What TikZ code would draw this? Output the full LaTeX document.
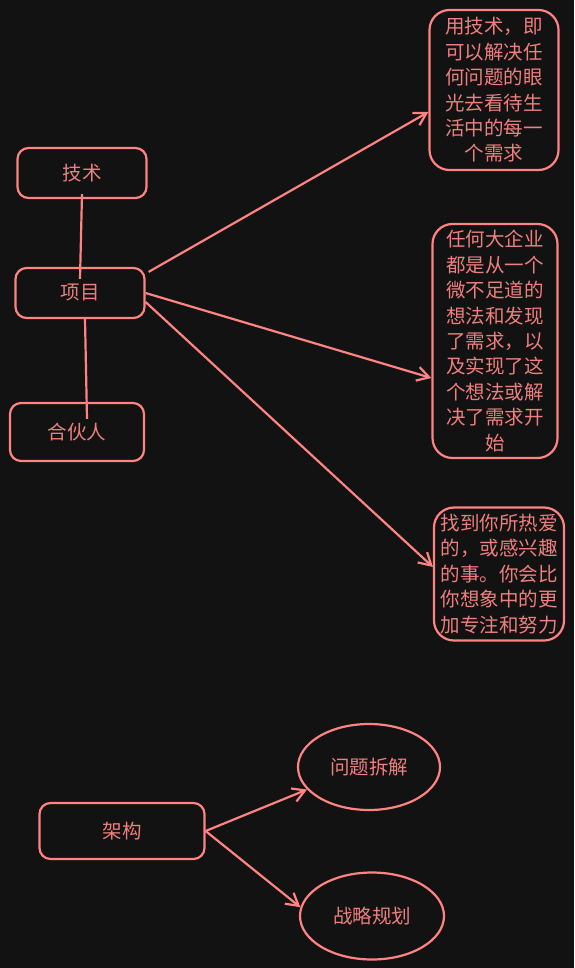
\documentclass[tikz,border=0pt]{standalone}
\usepackage{fontspec}
\setmainfont{Noto Sans CJK SC}
\usetikzlibrary{shapes.geometric,arrows.meta}
\definecolor{bgdark}{HTML}{121212}
\definecolor{pen}{HTML}{FF8383}
\definecolor{ink}{HTML}{EE7F7F}
\tikzset{
  box/.style={draw=pen,line width=2.2pt,rounded corners=11pt,text=ink,align=center,inner sep=0pt},
  bigbox/.style={box,rounded corners=20pt},
  oval/.style={draw=pen,line width=2.2pt,ellipse,text=ink,inner sep=0pt},
  link/.style={draw=pen,line width=2.2pt}
}
\begin{document}
\begin{tikzpicture}[x=1pt,y=-1pt,font=\fontsize{19.5}{25.4}\selectfont]
\useasboundingbox[fill=bgdark] (0,0) rectangle (574,968);
% left column
\node [box,minimum width=129pt,minimum height=50pt] (js) at (82,173) {技术};
\node [box,minimum width=129pt,minimum height=50pt] (xm) at (80,293) {项目};
\node [box,minimum width=134pt,minimum height=58pt] (hh) at (77,432) {合伙人};
% right column
\node [bigbox,minimum width=129pt,minimum height=160pt] (b1) at (494,90)
  {用技术，即\\可以解决任\\何问题的眼\\光去看待生\\活中的每一\\个需求};
\node [bigbox,minimum width=125pt,minimum height=234pt] (b2) at (495,341)
  {任何大企业\\都是从一个\\微不足道的\\想法和发现\\了需求，以\\及实现了这\\个想法或解\\决了需求开\\始};
\node [bigbox,minimum width=130pt,minimum height=133pt] (b3) at (499,574)
  {找到你所热爱\\的，或感兴趣\\的事。你会比\\你想象中的更\\加专注和努力};
% bottom
\node [box,minimum width=165pt,minimum height=56pt] (jg) at (122,831) {架构};
\node [oval,minimum width=142pt,minimum height=86pt] (wt) at (369,767) {问题拆解};
\node [oval,minimum width=144pt,minimum height=87pt] (zl) at (372,916) {战略规划};

\draw [link] ([yshift=5pt]js.south) -- ([yshift=-12pt]xm.north);
\draw [link] ([xshift=5pt]xm.south) -- ([xshift=10pt,yshift=-17pt]hh.north);
\begin{scope}[-{Straight Barb[angle=60:14pt]}]
	\draw [link] ([xshift=3pt,yshift=-5pt]xm.north east) -- ([yshift=-22pt]b1.west);
	\draw [link] (xm.east) -- ([yshift=-37pt]b2.west);
	\draw [link] ([yshift=-9pt]xm.east) -- ([yshift=7pt]b3.west);
	\draw [link] (jg.east) -- (wt.200);
	\draw [link] (jg.east) -- (zl.173);
\end{scope}
\end{tikzpicture}
\end{document}
